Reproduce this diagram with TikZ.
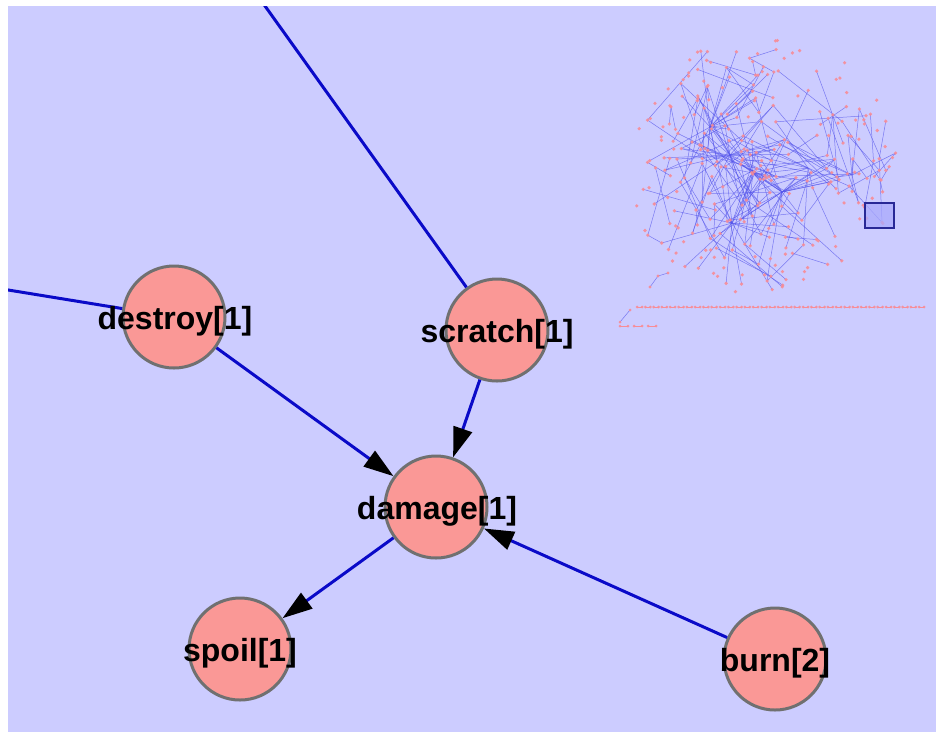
\documentclass[tikz,border=0pt]{standalone}
\usepackage{fontspec}
\setmainfont{Liberation Sans}
\usetikzlibrary{arrows.meta}
\definecolor{bg}{RGB}{204,204,255}
\definecolor{nodefill}{RGB}{250,152,150}
\definecolor{nodeborder}{RGB}{112,112,112}
\definecolor{edgeblue}{RGB}{10,10,200}
\definecolor{minidot}{RGB}{248,140,150}
\definecolor{miniedge}{RGB}{85,85,235}
\definecolor{viewfill}{RGB}{170,170,252}
\definecolor{viewline}{RGB}{40,40,150}
\begin{document}
\begin{tikzpicture}[x=1pt,y=-1pt,
  vertex/.style={circle,draw=nodeborder,fill=nodefill,line width=3pt,minimum size=102pt,inner sep=0pt},
  lbl/.style={font=\bfseries\fontsize{32}{32}\selectfont,anchor=base,inner sep=0pt},
  link/.style={draw=edgeblue,line width=3pt},
  arr/.style={link,-{Triangle[length=30pt,width=19pt,color=black]}},
  mini/.style={miniedge,line width=0.5pt,opacity=0.7},
  minipt/.style={minidot,opacity=0.9},
]
\useasboundingbox (0,0) rectangle (936,732);
\fill[white] (0,0) rectangle (936,732);
\fill[bg] (8,6) rectangle (936,732);

% ---------- overview thumbnail ----------
\begin{scope}
\pgfmathsetseed{11}
\gdef\prevx{760}\gdef\prevy{170}
\foreach \i in {1,...,300}{
  \pgfmathsetmacro{\ang}{rnd*360}
  \pgfmathsetmacro{\rad}{sqrt(rnd)}
  \pgfmathsetmacro{\px}{762+136*\rad*cos(\ang)}
  \pgfmathsetmacro{\py}{166+130*\rad*sin(\ang)}
  \pgfmathtruncatemacro{\h}{random(0,6)}
  \pgfmathsetmacro{\hx}{{710,730,808,852,782,732,753}[\h]}
  \pgfmathsetmacro{\hy}{{127,155,168,175,192,223,173}[\h]}
  \pgfmathsetmacro{\dd}{veclen(\px-\hx,\py-\hy)}
  \pgfmathsetmacro{\dp}{veclen(\px-\prevx,\py-\prevy)}
  \ifdim \dd pt<80pt
    \draw[mini] (\px,\py) -- (\hx,\hy);
  \fi
  \ifdim \dp pt<95pt
    \draw[mini] (\px,\py) -- (\prevx,\prevy);
  \fi
  \xdef\prevx{\px}\xdef\prevy{\py}
}
\pgfmathsetseed{11}
\foreach \i in {1,...,300}{
  \pgfmathsetmacro{\ang}{rnd*360}
  \pgfmathsetmacro{\rad}{sqrt(rnd)}
  \pgfmathsetmacro{\px}{762+136*\rad*cos(\ang)}
  \pgfmathsetmacro{\py}{166+130*\rad*sin(\ang)}
  \pgfmathtruncatemacro{\h}{random(0,6)}
  \fill[minipt] (\px,\py) circle (1.8);
}
\foreach \k in {0,...,34}{
  \draw[minidot,line width=0.8pt] (637+8.3*\k,307) -- ++(5,0);
  \fill[minipt] (637+8.3*\k,307) circle (1.5);
  \fill[minipt] (642+8.3*\k,307) circle (1.5);
}
\draw[mini] (620,322) -- (630,310);
\fill[minipt] (620,322) circle (1.5);
\fill[minipt] (630,310) circle (1.5);
\foreach \x in {620,634,648}{
  \draw[minidot,line width=0.8pt] (\x,326) -- ++(8,0);
  \fill[minipt] (\x,326) circle (1.5);
  \fill[minipt] (\x+8,326) circle (1.5);
}
\draw[mini] (650,287) -- (658,276) -- (668,273);
\fill[minipt] (650,287) circle (1.6);
\fill[minipt] (658,276) circle (1.6);
\fill[minipt] (668,273) circle (1.6);
\fill[viewfill,opacity=0.75] (865,203) rectangle (894,228);
\draw[viewline,line width=1.3pt] (865,203) rectangle (894,228);
\end{scope}

% ---------- main graph ----------
\node[vertex] (destroy) at (174,317) {};
\node[vertex] (scratch) at (497,330) {};
\node[vertex] (damage)  at (436,507) {};
\node[vertex] (spoil)   at (240,649) {};
\node[vertex] (burn)    at (775,659) {};

\coordinate (offtop)  at (246.4,-20);
\coordinate (offleft) at (-20,285.4);

\begin{scope}
\clip (8,6) rectangle (936,732);
\draw[link] (offtop) -- (scratch);
\draw[link] (offleft) -- (destroy);
\end{scope}

\draw[arr] (destroy) -- (damage);
\draw[arr] (scratch) -- (damage);
\draw[arr] (damage) -- (spoil);
\draw[arr] (burn) -- (damage);

\node[lbl] (destroyT) at (175,329.5) {destroy[1]};
\node[lbl] (scratchT) at (497,342.5) {scratch[1]};
\node[lbl] (damageT)  at (437,519.5) {damage[1]};
\node[lbl] (spoilT)   at (240,661.5) {spoil[1]};
\node[lbl] (burnT)    at (775,671.5) {burn[2]};
\end{tikzpicture}
\end{document}
